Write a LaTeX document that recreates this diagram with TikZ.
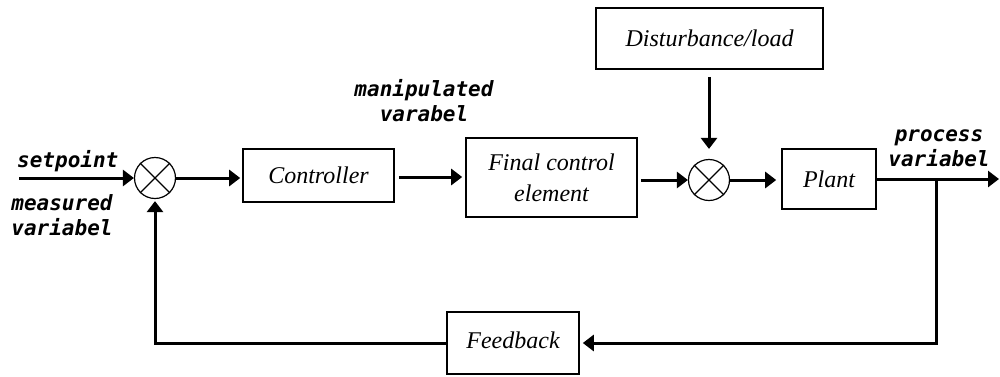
\documentclass[tikz,border=0pt]{standalone}
\usepackage{fontspec}
\setmainfont{Liberation Serif}
\newfontfamily\tagfont{DejaVu Sans Mono}
\usetikzlibrary{arrows.meta}

\begin{document}
\begin{tikzpicture}[x=1pt,y=-1pt,>={Triangle[length=11pt,width=16pt]},
                blk/.style={draw,line width=1.6pt,inner sep=0pt,align=center,
                    font=\fontsize{24}{31}\selectfont\itshape},
                junc/.style={draw,circle,line width=1.2pt,minimum size=41pt,inner sep=0pt},
                sig/.style={line width=3pt},
                tag/.style={inner sep=0pt,font=\fontsize{21}{25}\selectfont\tagfont\bfseries\itshape}]
            \useasboundingbox (0,0) rectangle (1000,376);
            \clip (0,0) rectangle (1000,376);

            \node[junc] (sum1) at (155,178) {};
            \node[junc] (sum2) at (709,180) {};
            \foreach \s in {sum1,sum2}
                \draw[line width=1.2pt] (\s.north west) -- (\s.south east)
                    (\s.north east) -- (\s.south west);

            \node[blk,minimum width=151pt,minimum height=53pt] (ctrl) at (318.5,175.5) {Controller};
            \node[blk,minimum width=171pt,minimum height=79pt] (fce) at (551.5,177.5) {Final control\\element};
            \node[blk,minimum width=227pt,minimum height=61pt] (dist) at (709.5,38.5) {Disturbance/load};
            \node[blk,minimum width=94pt,minimum height=60pt] (plant) at (829,179) {Plant};
            \node[blk,minimum width=132pt,minimum height=62pt] (fb) at (513,343) {\raisebox{6pt}{Feedback}};

            \coordinate (sp) at (19,178);
            \coordinate (br) at (936,179);
            \coordinate (out) at (999,179);

            \draw[sig,->] (sp) -- (sum1.west);
            \draw[sig,->,shorten >=2pt] (sum1.east) -- (ctrl.west |- sum1.east);
            \draw[sig,->,shorten <=4pt,shorten >=3pt] (ctrl.east |- 0,177) -- (fce.west |- 0,177);
            \draw[sig,->,shorten <=3pt] (fce.east |- sum2.west) -- (sum2.west);
            \draw[sig,->,shorten >=5pt] (sum2.east) -- (plant.west |- sum2.east);
            \draw[sig,->,shorten <=7pt,shorten >=10pt] (dist.south -| sum2.north) -- (sum2.north);
            \draw[sig,->] (plant.east |- out) -- (out);
            \draw[sig,->,shorten >=3pt] (br) |- (fb.east);
            \draw[sig,->,shorten >=2pt] (fb.west) -| (sum1.south);

            \node[tag,anchor=base west] (spt) at (17,167) {setpoint};
            \node[tag,align=left] (mv) at (62,215) {measured\\variabel};
            \node[tag,align=center] (mnp) at (424,101) {manipulated\\varabel};
            \node[tag,align=center] (pv) at (939,148) {process\\variabel};
        \end{tikzpicture}
\end{document}
